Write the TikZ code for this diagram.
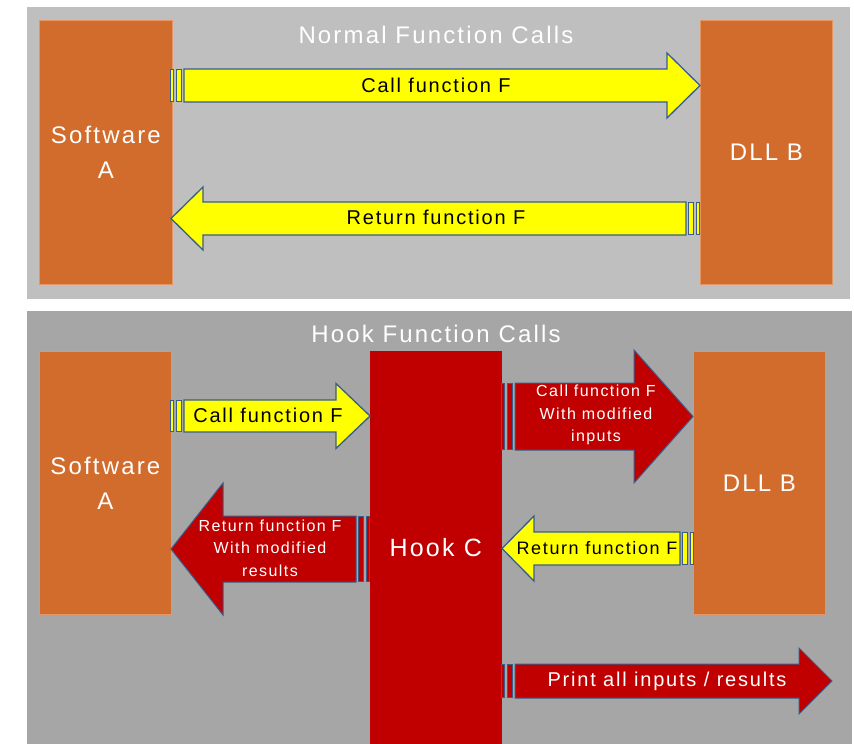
\documentclass[tikz,border=0pt]{standalone}
\usepackage{fontspec}
\setmainfont{Liberation Sans}[LetterSpace=9]
\definecolor{panelA}{RGB}{191,191,191}
\definecolor{panelB}{RGB}{166,166,166}
\definecolor{boxorange}{RGB}{209,108,44}
\definecolor{boxedge}{RGB}{228,150,100}
\definecolor{hookred}{RGB}{192,0,0}
\definecolor{arrowblue}{RGB}{56,93,138}
\definecolor{pureyellow}{RGB}{255,255,0}
\newcommand\rblk[7]{%
  \draw[#1] ({#2+0.6},{#5-#6+0.6}) rectangle ({#2+3.4},{#5+#6-0.6});
  \draw[#1] ({#2+6.6},{#5-#6+0.6}) rectangle ({#2+11.4},{#5+#6-0.6});
  \draw[#1] ({#2+14},{#5-#6}) -- (#3,{#5-#6}) -- (#3,{#5-#7}) -- (#4,#5) -- (#3,{#5+#7}) -- (#3,{#5+#6}) -- ({#2+14},{#5+#6}) -- cycle;}
\newcommand\lblk[7]{%
  \draw[#1] ({#2-3.4},{#5-#6+0.6}) rectangle ({#2-0.6},{#5+#6-0.6});
  \draw[#1] ({#2-11.4},{#5-#6+0.6}) rectangle ({#2-6.6},{#5+#6-0.6});
  \draw[#1] ({#2-14},{#5-#6}) -- (#3,{#5-#6}) -- (#3,{#5-#7}) -- (#4,#5) -- (#3,{#5+#7}) -- (#3,{#5+#6}) -- ({#2-14},{#5+#6}) -- cycle;}
\tikzset{
  obox/.style={fill=boxorange, draw=boxedge, line width=0.8pt, anchor=north west, inner sep=0pt,
    text=white, align=center, font=\fontsize{24}{35}\selectfont},
  hbox/.style={fill=hookred, draw=hookred, anchor=north west, inner sep=0pt,
    text=white, align=center, font=\fontsize{25}{35}\selectfont},
  yarr/.style={fill=pureyellow, draw=arrowblue, line width=1.3pt, line join=miter},
  rarr/.style={fill=hookred, draw=arrowblue, line width=1pt, line join=miter},
  title/.style={text=white, font=\fontsize{24}{28}\selectfont},
  blk/.style={text=black, font=\fontsize{20}{24}\selectfont},
  wht/.style={text=white, align=center, font=\fontsize{16}{22.5}\selectfont},
}
\begin{document}
\begin{tikzpicture}[x=1pt,y=-1pt]
\useasboundingbox (0,0) rectangle (854,744);
% panels
\fill[panelA] (27,7) rectangle (850,299);
\fill[panelB] (27,311) rectangle (852,744);
\node[title] (t1) at (436,35) {Normal Function Calls};
\node[title] (t2) at (436,334) {Hook Function Calls};
% top boxes
\node[obox, minimum width=133pt, minimum height=264pt] (swA1) at (39,20) {Software\\A};
\node[obox, minimum width=132pt, minimum height=264pt] (dllB1) at (700,20) {DLL B};
% top arrows
\rblk{yarr}{170}{667}{700}{85.5}{16.5}{32.5}
\lblk{yarr}{700}{203}{171}{218.5}{16.5}{31.5}
\node[blk] (c1) at (436,85) {Call function F};
\node[blk] (r1) at (436,217) {Return function F};
% bottom boxes
\node[obox, minimum width=132pt, minimum height=263pt] (swA2) at (39,351) {Software\\A};
\node[hbox, minimum width=131pt, minimum height=393pt] (hookC) at (370,351) {Hook C};
\node[obox, minimum width=132pt, minimum height=263pt] (dllB2) at (693,351) {DLL B};
% bottom arrows
\rblk{yarr}{170}{336}{370}{416}{16}{32.5}
\rblk{rarr}{501}{634}{693}{416.5}{33.5}{66.5}
\lblk{yarr}{694}{534}{502}{548.5}{16.5}{32.5}
\lblk{rarr}{370}{223}{171}{549}{33}{66}
\rblk{rarr}{501}{799}{832}{681}{17}{33}
\node[blk] (c2) at (268,415) {Call function F};
\node[wht] (c3) at (596,415) {Call function F\\With modified\\inputs};
\node[blk, font=\fontsize{18}{22}\selectfont] (r2) at (597,548) {Return function F};
\node[wht] (r3) at (270,548) {Return function F\\With modified\\results};
\node[wht, font=\fontsize{20}{24}\selectfont] (p1) at (667,681) {Print all inputs / results};
\end{tikzpicture}
\end{document}
